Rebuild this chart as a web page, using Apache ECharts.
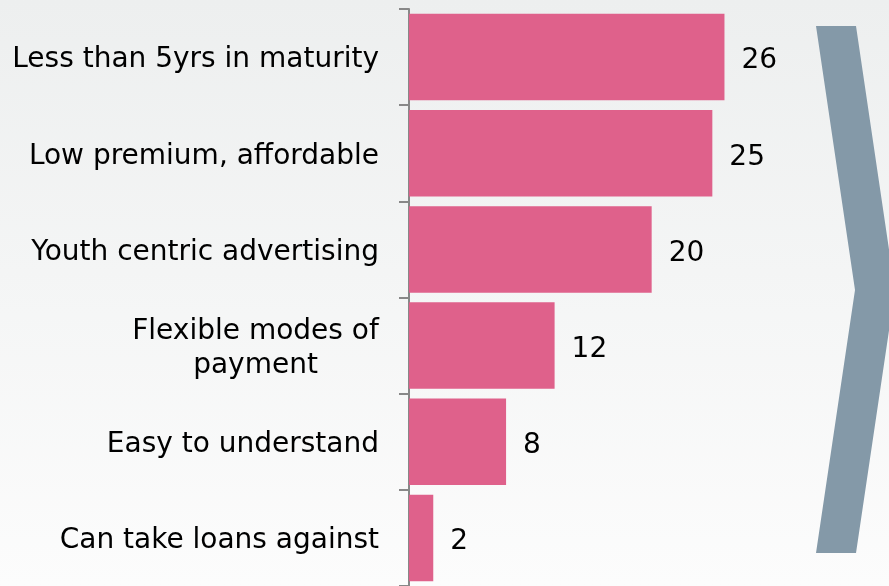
<!DOCTYPE html>
<html>
<head>
<meta charset="utf-8">
<script src="https://cdn.jsdelivr.net/npm/echarts@6/dist/echarts.min.js"></script>
<style>
  html, body { margin: 0; padding: 0; }
  #chart { width: 889px; height: 586px; }
</style>
</head>
<body>
<div id="chart"></div>
<script>
// Reasons cited, with number of mentions
const categories = [
  'Less than 5yrs in maturity',
  'Low premium, affordable',
  'Youth centric advertising',
  'Flexible modes of\npayment',
  'Easy to understand',
  'Can take loans against'
];
const mentions = [26, 25, 20, 12, 8, 2];

const FONT_NAME = '"DejaVu Sans", sans-serif';
const FONT_SIZE = 28;

// width of the widest line of a wrapped label, so the lines can be centred in one block
const measureCtx = document.createElement('canvas').getContext('2d');
measureCtx.font = FONT_SIZE + 'px ' + FONT_NAME;
function blockWidth(lines) {
  return Math.ceil(Math.max.apply(null, lines.map(function (s) { return measureCtx.measureText(s).width; })));
}

const chart = echarts.init(document.getElementById('chart'));

chart.setOption({
  backgroundColor: {
    type: 'linear', x: 0, y: 0, x2: 0, y2: 1,
    colorStops: [
      { offset: 0, color: '#EDEFEF' },
      { offset: 1, color: '#FCFCFC' }
    ]
  },
  animation: false,
  grid: { left: 409, top: 9, width: 364, height: 581, containLabel: false },
  xAxis: {
    type: 'value', min: 0, max: 30,
    show: false
  },
  yAxis: {
    type: 'category',
    inverse: true,
    data: categories,
    axisLine: { show: true, lineStyle: { color: '#888888', width: 2 } },
    axisTick: { show: true, length: 10, lineStyle: { color: '#888888', width: 2 } },
    axisLabel: {
      margin: 30,
      color: '#000',
      fontFamily: FONT_NAME,
      fontSize: FONT_SIZE,
      lineHeight: 34,
      padding: [6, 0, 0, 0],
      formatter: function (v) {
        if (v.indexOf('\n') >= 0) {
          const lines = v.split('\n');
          const w = blockWidth(lines);
          return lines.map(function (s) { return '{c' + w + '|' + s + '}'; }).join('\n');
        }
        return v;
      },
      rich: (function () {
        const r = {};
        categories.forEach(function (c) {
          if (c.indexOf('\n') >= 0) {
            r['c' + blockWidth(c.split('\n'))] = {
              width: blockWidth(c.split('\n')), align: 'center',
              fontFamily: FONT_NAME, fontSize: FONT_SIZE, lineHeight: 34, color: '#000'
            };
          }
        });
        return r;
      })()
    }
  },
  series: [{
    type: 'bar',
    data: mentions,
    barCategoryGap: '10%',
    itemStyle: { color: '#DF618B' },
    label: {
      show: true,
      position: 'right',
      distance: 17,
      offset: [0, 4],
      color: '#000',
      fontFamily: FONT_NAME,
      fontSize: FONT_SIZE
    }
  }],
  graphic: [{
    type: 'polygon',
    shape: {
      points: [[816, 26], [856, 26], [895, 290], [856, 553], [816, 553], [855, 290]]
    },
    style: { fill: '#8499A8' },
    silent: true
  }]
});
</script>
</body>
</html>
